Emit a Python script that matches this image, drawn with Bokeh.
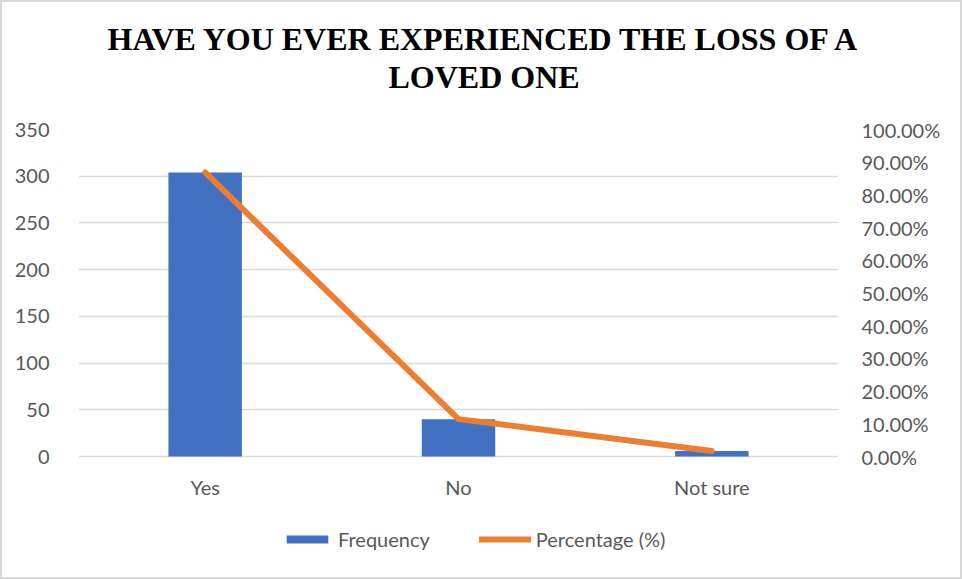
from bokeh.plotting import figure
from bokeh.models import (ColumnDataSource, Range1d, LinearAxis, FixedTicker,
                          NumeralTickFormatter, Legend, LegendItem, Title, FactorRange)
from bokeh.core.properties import value
from bokeh.embed import file_html
from bokeh.resources import INLINE

categories = ["Yes", "No", "Not sure"]
frequency = [304, 40, 6]
percentage = [0.8686, 0.1143, 0.0171]
left_ticks = [0, 50, 100, 150, 200, 250, 300, 350]
right_ticks = [0.0, 0.1, 0.2, 0.3, 0.4, 0.5, 0.6, 0.7, 0.8, 0.9, 1.0]
title_lines = ["HAVE YOU EVER EXPERIENCED THE LOSS OF A", "LOVED ONE"]

# layout (pixels)
W, H = 962, 579
frame_left, frame_top, frame_w = 78, 129, 760
plot_h = 327                      # height of the value area (0..max)
frame_h = H - frame_top           # frame extends down to hold the category labels and legend
y_max = left_ticks[-1]
p_max = right_ticks[-1]
px_per_unit = plot_h / y_max
y_start = y_max - frame_h / px_per_unit
p_start = p_max - frame_h * p_max / plot_h
label_offset_px = 30              # category labels below the zero line

src = ColumnDataSource(dict(cat=categories, freq=frequency, pct=percentage))
lab_src = ColumnDataSource(dict(cat=categories, txt=categories,
                                y=[-label_offset_px / px_per_unit] * len(categories)))

p = figure(width=W, height=H, frame_width=frame_w, frame_height=frame_h,
           x_range=FactorRange(*categories), y_range=Range1d(y_start, y_max),
           output_backend="svg", toolbar_location=None,
           min_border_left=frame_left, min_border_right=W - frame_left - frame_w,
           min_border_top=frame_top, min_border_bottom=0)
p.extra_y_ranges = {"pct": Range1d(p_start, p_max)}
p.outline_line_color = None
p.background_fill_color = None
p.border_fill_color = None
p.styles = {"box-shadow": "inset 0 0 0 2px #d9d9d9", "background": "white"}

axis_font = "Lato"
label_color = "#595959"

bars = p.vbar(x="cat", top="freq", width=0.29, source=src, fill_color="#4270c2", line_color=None)
line = p.line(x="cat", y="pct", source=src, y_range_name="pct", line_color="#ED7D31",
              line_width=6, line_cap="round", line_join="round")
p.text(x="cat", y="y", text="txt", source=lab_src, text_font=value(axis_font),
       text_align="center", text_baseline="middle", text_color=label_color,
       text_font_size="20px")

# left axis
la = p.yaxis[0]
la.ticker = FixedTicker(ticks=left_ticks)
la.axis_line_color = None
la.major_tick_line_color = None
la.minor_tick_line_color = None
la.major_label_text_font = axis_font
la.major_label_text_font_size = "20px"
la.major_label_text_color = label_color
la.major_label_standoff = 23

ra = LinearAxis(y_range_name="pct", ticker=FixedTicker(ticks=right_ticks),
                formatter=NumeralTickFormatter(format="0.00%"))
ra.axis_line_color = None
ra.major_tick_line_color = None
ra.minor_tick_line_color = None
ra.major_label_text_font = axis_font
ra.major_label_text_font_size = "20px"
ra.major_label_text_color = label_color
ra.major_label_standoff = 17
p.add_layout(ra, "right")

p.xaxis.visible = False
p.xgrid.grid_line_color = None
p.ygrid.grid_line_color = "#d9d9d9"
p.ygrid.grid_line_width = 1.5
p.ygrid.ticker = FixedTicker(ticks=left_ticks)

legend = Legend(items=[LegendItem(label="Frequency", renderers=[bars]),
                       LegendItem(label="Percentage (%)", renderers=[line])],
                orientation="horizontal", location=(203, 28),
                glyph_width=52, glyph_height=10, label_standoff=5, spacing=49,
                label_text_font=axis_font, label_text_font_size="20px",
                label_text_color=label_color, border_line_color=None,
                background_fill_alpha=0, margin=0, padding=5)
p.add_layout(legend, "center")

# spacer between the frame and the title lines
p.add_layout(Title(text=" ", text_font_size="1px", standoff=32), "above")
title_offsets = [29, 310]
for t, o in reversed(list(zip(title_lines, title_offsets))):
    p.add_layout(Title(text=t, align="left", text_font="Liberation Serif",
                       text_font_size="32px", text_font_style="bold", text_color="black",
                       standoff=0, offset=o), "above")

open("out.html", "w").write(file_html(p, INLINE))
